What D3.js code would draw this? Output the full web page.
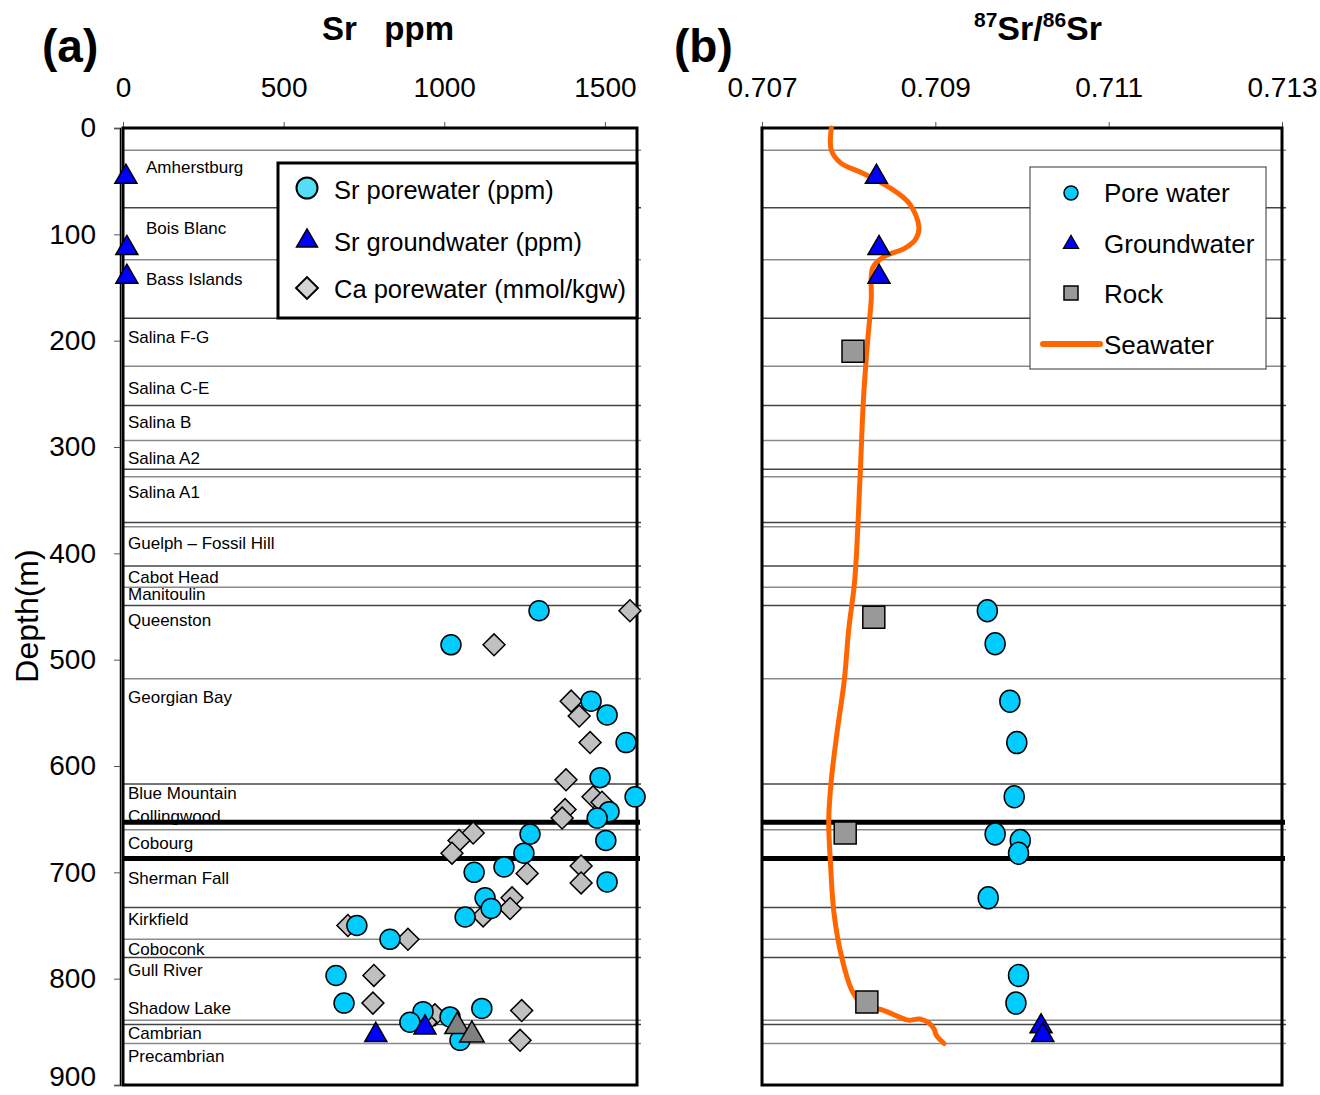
<!DOCTYPE html>
<html>
<head>
<meta charset="utf-8">
<script src="https://cdn.jsdelivr.net/npm/d3@7"></script>
<style>
  body { margin: 0; background: #fff; }
  svg { font-family: Arial, "Liberation Sans", sans-serif; }
</style>
</head>
<body>
<svg id="chart" width="1320" height="1095"></svg>
<script>
// ---- data (depth in m) ----
const srTicks = [0, 500, 1000, 1500];
const ratioTicks = [0.707, 0.709, 0.711, 0.713];
const depthTicks = [0, 100, 200, 300, 400, 500, 600, 700, 800, 900];

// formation boundaries and names (label depth = middle of label)
const boundaries = [21, 75, 124, 179, 224, 261, 294, 321, 328, 371, 375, 412, 432, 449, 518, 617, 660, 733, 763, 780, 839, 843, 861];
const thickBoundaries = [653, 687];
const formations = ["Amherstburg", "Bois Blanc", "Bass Islands", "Salina F-G", "Salina C-E", "Salina B", "Salina A2", "Salina A1",
  "Guelph – Fossil Hill", "Cabot Head", "Manitoulin", "Queenston", "Georgian Bay", "Blue Mountain", "Collingwood", "Cobourg",
  "Sherman Fall", "Kirkfield", "Coboconk", "Gull River", "Shadow Lake", "Cambrian", "Precambrian"];
const formationLabelDepth = [37, 94, 142, 197, 245, 277, 310, 342, 390, 422, 438, 463, 535, 625, 647, 672, 705, 744, 772, 792, 828, 851, 873];

// panel (a): [ppm, depth]
const srPorewater = [[1295, 454], [1021, 486], [1457, 539], [1507, 552], [1566, 578], [1485, 611], [1594, 629], [1513, 643], [1476, 649],
  [1267, 664], [1503, 670], [1248, 682], [1093, 700], [1186, 695], [1507, 709], [1127, 724], [1146, 734], [1065, 742],
  [728, 750], [831, 763], [663, 797], [688, 823], [934, 831], [893, 841], [1018, 836], [1117, 828], [1049, 858]];
const caPorewater = [[1578, 454], [1155, 486], [1395, 539], [1420, 553], [1454, 578], [1379, 613], [1463, 629], [1491, 634], [1376, 641],
  [1367, 649], [1090, 663], [1046, 670], [1024, 682], [1258, 701], [1426, 694], [1426, 710], [1211, 724], [1205, 734], [1121, 741],
  [700, 750], [887, 763], [781, 797], [778, 823], [1241, 830], [930, 834], [971, 834], [943, 841], [1236, 858]];
const srGroundwater = [[9, 46], [12, 113], [12, 140], [787, 853], [940, 846]];
const caGroundwater = [[1040, 845], [1086, 853]];

// panel (b): [87Sr/86Sr, depth]
const porewaterRatio = [[0.70960, 454], [0.70969, 485], [0.70986, 539], [0.70994, 578], [0.70991, 629], [0.70969, 664],
  [0.70998, 670], [0.70996, 682], [0.70961, 724], [0.70996, 797], [0.70993, 823]];
const groundwaterRatio = [[0.70832, 46], [0.70835, 113], [0.70835, 140], [0.71022, 845], [0.71024, 853]];
const rockRatio = [[0.70805, 210], [0.70829, 460], [0.70796, 663], [0.70821, 822]];
const seawater = [[0.70780, 0], [0.70780, 21], [0.70791, 33], [0.70815, 42], [0.70845, 55], [0.70870, 71], [0.70881, 93],
  [0.70877, 105], [0.70865, 113], [0.70841, 121], [0.70828, 131], [0.70826, 162], [0.70821, 209], [0.70817, 256],
  [0.70813, 331], [0.70807, 425], [0.70800, 472], [0.70795, 519], [0.70787, 566], [0.70780, 613], [0.70777, 651],
  [0.70779, 691], [0.70783, 738], [0.70792, 780], [0.70805, 813], [0.70820, 827], [0.70837, 829], [0.70858, 836],
  [0.70869, 839], [0.70882, 838], [0.70893, 842], [0.70899, 848], [0.70901, 853], [0.70910, 861]];

// ---- layout ----
const svg = d3.select("#chart");
const plotTop = 128, plotBottom = 1085;
const y = d3.scaleLinear().domain([0, 900]).range([plotTop, plotBottom]);
const xa = d3.scaleLinear().domain([0, 1600]).range([123, 637]);
const xb = d3.scaleLinear().domain([0.707, 0.713]).range([762, 1282]);

const cyan = "#00CCFF", blue = "#0000FF", orange = "#FF6600";
const tickFont = 28;

function panelFrame(x) {
  const [x0, x1] = x.range();
  const g = svg.append("g");
  g.selectAll("line.b").data(boundaries).join("line")
    .attr("x1", x0).attr("x2", x1 + 4)
    .attr("y1", d => y(d)).attr("y2", d => y(d))
    .attr("stroke", (d, i) => i % 2 ? "#444" : "#8a8a8a").attr("stroke-width", 1.5);
  g.selectAll("line.t").data(thickBoundaries).join("line")
    .attr("x1", x0).attr("x2", x1 + 3)
    .attr("y1", d => y(d)).attr("y2", d => y(d))
    .attr("stroke", "#000").attr("stroke-width", 5);
  return g;
}

function axes(x, ticks, fmt) {
  const [x0, x1] = x.range();
  const ax = svg.append("g").attr("transform", `translate(0,${plotTop})`)
    .call(d3.axisTop(x).tickValues(ticks).tickFormat(fmt).tickSize(6).tickPadding(25));
  ax.select(".domain").remove();
  ax.selectAll("line").attr("stroke", "#555");
  ax.selectAll("text").attr("font-size", tickFont).attr("fill", "#000").attr("font-family", "Arial, Liberation Sans, sans-serif");
  svg.append("rect").attr("x", x0).attr("y", plotTop).attr("width", x1 - x0).attr("height", plotBottom - plotTop)
    .attr("fill", "none").attr("stroke", "#000").attr("stroke-width", 3);
}

function triangle(g, data, x, fill, size) {
  g.selectAll(null).data(data).join("path")
    .attr("d", d3.symbol(d3.symbolTriangle, size))
    .attr("transform", d => `translate(${x(d[0])},${y(d[1])})`)
    .attr("fill", fill).attr("stroke", "#000").attr("stroke-width", 1.5);
}

// ---- panel (a) ----
const ga = panelFrame(xa);
ga.selectAll("text").data(formations).join("text")
  .attr("x", (d, i) => xa(0) + (i < 3 ? 23 : 5))
  .attr("y", (d, i) => y(formationLabelDepth[i]))
  .attr("dy", "0.35em").attr("font-size", 17).text(d => d);

axes(xa, srTicks, d3.format("d"));
const yAxis = svg.append("g").attr("transform", `translate(120,0)`)
  .call(d3.axisLeft(y).tickValues(depthTicks).tickSize(6).tickPadding(18));
yAxis.select(".domain").attr("stroke", "#000").attr("stroke-width", 1.5);
yAxis.selectAll("line").attr("stroke", "#555");
yAxis.selectAll("text").attr("font-size", tickFont).attr("fill", "#000").attr("font-family", "Arial, Liberation Sans, sans-serif")
  .attr("dy", (d) => d === 900 ? "0em" : "0.32em");

// legend (a)
const la = svg.append("g");
la.append("rect").attr("x", 278).attr("y", 163).attr("width", 359).attr("height", 155)
  .attr("fill", "#fff").attr("stroke", "#000").attr("stroke-width", 3);
la.append("circle").attr("cx", 307).attr("cy", 188).attr("r", 10.5).attr("fill", "#55DDF5").attr("stroke", "#000").attr("stroke-width", 2);
la.append("path").attr("d", d3.symbol(d3.symbolTriangle, 190)).attr("transform", "translate(307,241)")
  .attr("fill", blue).attr("stroke", "#000").attr("stroke-width", 1.5);
la.append("path").attr("d", d3.symbol(d3.symbolSquare, 240)).attr("transform", "translate(307,288) rotate(45)")
  .attr("fill", "#d4d4d4").attr("stroke", "#000").attr("stroke-width", 2);
la.selectAll("text").data(["Sr porewater (ppm)", "Sr groundwater (ppm)", "Ca porewater (mmol/kgw)"]).join("text")
  .attr("x", 334).attr("y", (d, i) => [190, 242, 289][i]).attr("dy", "0.35em").attr("font-size", 25.5).text(d => d);

// markers (a)
const ma = svg.append("g");
ma.selectAll(null).data(caPorewater).join("path")
  .attr("d", d3.symbol(d3.symbolSquare, 240))
  .attr("transform", d => `translate(${xa(d[0])},${y(d[1])}) rotate(45)`)
  .attr("fill", "#C0C0C0").attr("stroke", "#000").attr("stroke-width", 1.5);
ma.selectAll(null).data(srPorewater).join("circle")
  .attr("cx", d => xa(d[0])).attr("cy", d => y(d[1])).attr("r", 10)
  .attr("fill", cyan).attr("stroke", "#000").attr("stroke-width", 1.5);
triangle(ma, srGroundwater, xa, blue, 210);
triangle(ma, caGroundwater, xa, "#808080", 260);

// titles (a)
svg.append("text").attr("x", 42).attr("y", 62).attr("font-size", 46).attr("font-weight", "bold").text("(a)");
svg.append("text").attr("x", 388).attr("y", 40).attr("text-anchor", "middle").attr("font-size", 33)
  .attr("font-weight", "bold").style("white-space", "pre").text("Sr   ppm");
svg.append("text").attr("transform", "translate(38,616) rotate(-90)").attr("text-anchor", "middle")
  .attr("font-size", 32).text("Depth(m)");

// ---- panel (b) ----
panelFrame(xb);
axes(xb, ratioTicks, d3.format(".3f"));

const line = d3.line().x(d => xb(d[0])).y(d => y(d[1])).curve(d3.curveCatmullRom);
svg.append("path").datum(seawater).attr("d", line)
  .attr("fill", "none").attr("stroke", orange).attr("stroke-width", 5).attr("stroke-linecap", "round");

const mb = svg.append("g");
mb.selectAll(null).data(rockRatio).join("path")
  .attr("d", d3.symbol(d3.symbolSquare, 484))
  .attr("transform", d => `translate(${xb(d[0])},${y(d[1])})`)
  .attr("fill", "#999999").attr("stroke", "#000").attr("stroke-width", 1.5);
mb.selectAll(null).data(porewaterRatio).join("ellipse")
  .attr("cx", d => xb(d[0])).attr("cy", d => y(d[1])).attr("rx", 10).attr("ry", 11)
  .attr("fill", cyan).attr("stroke", "#000").attr("stroke-width", 1.5);
triangle(mb, groundwaterRatio, xb, blue, 210);

// legend (b)
const lb = svg.append("g");
lb.append("rect").attr("x", 1030).attr("y", 167).attr("width", 236).attr("height", 202)
  .attr("fill", "#fff").attr("stroke", "#333").attr("stroke-width", 1);
lb.append("circle").attr("cx", 1071).attr("cy", 193).attr("r", 7).attr("fill", cyan).attr("stroke", "#000").attr("stroke-width", 1.5);
lb.append("path").attr("d", d3.symbol(d3.symbolTriangle, 100)).attr("transform", "translate(1071,244)")
  .attr("fill", blue).attr("stroke", "#000").attr("stroke-width", 1.2);
lb.append("path").attr("d", d3.symbol(d3.symbolSquare, 196)).attr("transform", "translate(1071,293)")
  .attr("fill", "#999999").attr("stroke", "#000").attr("stroke-width", 1.5);
lb.append("line").attr("x1", 1043).attr("x2", 1100).attr("y1", 344).attr("y2", 344)
  .attr("stroke", orange).attr("stroke-width", 6).attr("stroke-linecap", "round");
lb.selectAll("text").data(["Pore water", "Groundwater", "Rock", "Seawater"]).join("text")
  .attr("x", 1104).attr("y", (d, i) => 193 + i * 50.5).attr("dy", "0.35em").attr("font-size", 26).text(d => d);

// titles (b)
svg.append("text").attr("x", 674).attr("y", 62).attr("font-size", 46).attr("font-weight", "bold").text("(b)");
const tb = svg.append("text").attr("x", 1038).attr("y", 40).attr("text-anchor", "middle").attr("font-weight", "bold").attr("font-size", 34);
tb.append("tspan").attr("font-size", 21).attr("dy", -13).text("87");
tb.append("tspan").attr("dy", 13).text("Sr/");
tb.append("tspan").attr("font-size", 21).attr("dy", -13).text("86");
tb.append("tspan").attr("dy", 13).text("Sr");
</script>
</body>
</html>
